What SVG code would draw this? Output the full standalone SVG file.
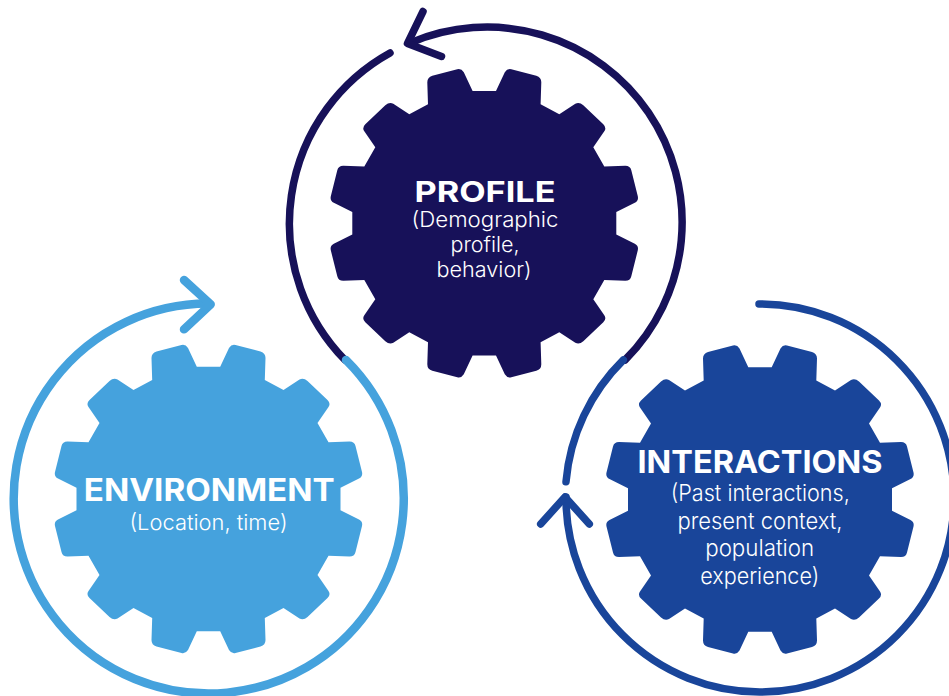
<svg xmlns="http://www.w3.org/2000/svg" width="949" height="696" viewBox="0 0 949 696">
<style>
.ring{fill:none;stroke-width:7.500;stroke-linecap:round;stroke-linejoin:round}
.h{font-family:"Inter","Liberation Sans",sans-serif;font-weight:700;fill:#fff;text-anchor:middle}
.s{font-family:"Inter","Liberation Sans",sans-serif;font-weight:300;fill:#fff;text-anchor:middle}
.dark{stroke:#171159}.mid{stroke:#19459a}.light{stroke:#45a2dd;stroke-width:8.500}
</style>
<defs>
<path id="gear" d="M-11.7,-132.3 L11.7,-132.3 L20.5,-151 Q23,-155 27,-154 L52,-147.5 Q57,-146 57,-141 L56.3,-119 L75,-109 L91,-119.5 Q95,-121.5 99,-118 L119,-99 Q122.5,-95.5 120,-92 L109,-76 L120,-56.7 L141,-57.5 Q146,-57.5 147,-53 L153.5,-27 Q154.5,-22.5 150.5,-20.5 L132,-11.3 L132,11.3 L150.5,20.5 Q154.5,22.5 153.5,27 L147,53 Q146,57.5 141,57.5 L120,56.7 L109,76 L120,92 Q122.5,95.5 119,99 L99,118 Q95,121.5 91,119.5 L75,109 L56.3,119 L57,141 Q57,146 52,147.5 L27,154 Q23,155 20.5,151 L11.7,132.3 L-11.7,132.3 L-20.5,151 Q-23,155 -27,154 L-52,147.5 Q-57,146 -57,141 L-56.3,119 L-75,109 L-91,119.5 Q-95,121.5 -99,118 L-119,99 Q-122.5,95.5 -120,92 L-109,76 L-120,56.7 L-141,57.5 Q-146,57.5 -147,53 L-153.5,27 Q-154.5,22.5 -150.5,20.5 L-132,11.3 L-132,-11.3 L-150.5,-20.5 Q-154.5,-22.5 -153.5,-27 L-147,-53 Q-146,-57.5 -141,-57.5 L-120,-56.7 L-109,-76 L-120,-92 Q-122.5,-95.5 -119,-99 L-99,-118 Q-95,-121.5 -91,-119.5 L-75,-109 L-56.3,-119 L-57,-141 Q-57,-146 -52,-147.5 L-27,-154 Q-23,-155 -20.5,-151 Z"/>
</defs>
<g id="connectors">
<g id="ring-profile">
<path class="ring dark" d="M625,360 A195,195 0 0 0 410,43"/>
<path class="ring dark" d="M423,11.500 L407.500,43.500 L441.500,56.500"/>
<path class="ring dark" d="M390,53 A195,195 0 0 0 345,360"/>
</g>
<g id="ring-environment">
<path class="ring light" d="M346,360 A195,195 0 1 1 208,303.500"/>
<path class="ring light" d="M184,280 L210.700,304.300 L184,329.300"/>
</g>
<g id="ring-interactions">
<path class="ring mid" d="M759,304 A194,194 0 1 1 566,497"/>
<path class="ring mid" d="M540.700,524 L565,497 L589.300,524"/>
<path class="ring mid" d="M566,481.700 A194,194 0 0 1 623.300,360"/>
</g>
</g>
<g id="profile">
<use href="#gear" x="484.300" y="223.300" fill="#171159"/>
<text class="h" x="485" y="201.700" font-size="29" textLength="141" lengthAdjust="spacingAndGlyphs">PROFILE</text>
<text class="s" x="485" y="227" font-size="21" textLength="147" lengthAdjust="spacingAndGlyphs">(Demographic</text>
<text class="s" x="485" y="252" font-size="21" textLength="69" lengthAdjust="spacingAndGlyphs">profile,</text>
<text class="s" x="484" y="277" font-size="21" textLength="95" lengthAdjust="spacingAndGlyphs">behavior)</text>
</g>
<g id="environment">
<use href="#gear" x="208.500" y="499" fill="#45a2dd"/>
<text class="h" x="209.300" y="501" font-size="31" textLength="251" lengthAdjust="spacingAndGlyphs">ENVIRONMENT</text>
<text class="s" x="208.500" y="530" font-size="22" textLength="158" lengthAdjust="spacingAndGlyphs">(Location, time)</text>
</g>
<g id="interactions">
<use href="#gear" x="760" y="499.500" fill="#19459a"/>
<text class="h" x="760" y="473" font-size="31" textLength="245" lengthAdjust="spacingAndGlyphs">INTERACTIONS</text>
<text class="s" x="760.300" y="500.500" font-size="23" textLength="179" lengthAdjust="spacingAndGlyphs">(Past interactions,</text>
<text class="s" x="760" y="528.500" font-size="23" textLength="165" lengthAdjust="spacingAndGlyphs">present context,</text>
<text class="s" x="759.700" y="556" font-size="23" textLength="109" lengthAdjust="spacingAndGlyphs">population</text>
<text class="s" x="759.700" y="583.500" font-size="23" textLength="119" lengthAdjust="spacingAndGlyphs">experience)</text>
</g>
</svg>
